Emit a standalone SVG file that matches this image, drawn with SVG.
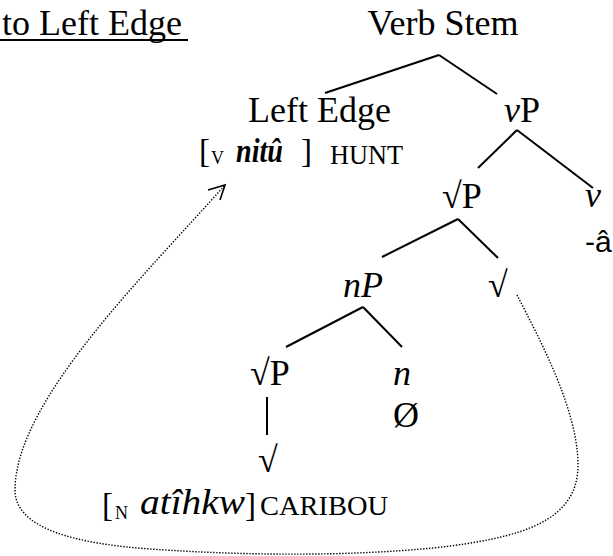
<svg xmlns="http://www.w3.org/2000/svg" width="613" height="556" viewBox="0 0 613 556">
<style>
text{font-family:"Liberation Serif","Times New Roman",serif;fill:#000}
.m{font-size:36px}
.i{font-style:italic}
.b{font-size:33px}
.sub{font-size:18px}
.sc{font-size:27px}
.t{stroke:#000;stroke-width:2;fill:none;stroke-linecap:butt}
.dot{stroke:#000;stroke-width:1.4;fill:none;stroke-dasharray:1.4 1.6}
</style>
<rect width="613" height="556" fill="#fff"/>
<g id="title">
<text class="m" x="2" y="35">to Left Edge</text>
<line x1="0" y1="40" x2="188" y2="40" stroke="#000" stroke-width="2"/>
</g>
<g id="verb-stem"><text class="m" x="443" y="35" text-anchor="middle">Verb Stem</text></g>
<g id="left-edge">
<text class="m" x="248" y="122">Left Edge</text>
<text class="b" x="199" y="162">[</text>
<text class="sub" x="211" y="164">V</text>
<text class="b i" x="236" y="162" font-weight="bold" textLength="47" lengthAdjust="spacingAndGlyphs">nitû</text>
<text class="b" x="301" y="162">]</text>
<text class="sc" x="330" y="164" textLength="73" lengthAdjust="spacingAndGlyphs">HUNT</text>
</g>
<g id="vP"><text class="m" x="504" y="122"><tspan class="i">v</tspan>P</text></g>
<g id="rootP-upper"><text class="m" x="442" y="208">√P</text></g>
<g id="v-head">
<text class="m i" x="585" y="207">v</text>
<text x="585" y="252" style="font-family:'Liberation Sans',Arial,sans-serif;font-size:30px">-â</text>
</g>
<g id="nP"><text class="m i" x="343" y="297">nP</text></g>
<g id="root-right"><text class="m" x="488" y="297">√</text></g>
<g id="rootP-lower"><text class="m" x="250" y="385">√P</text></g>
<g id="n-head">
<text class="m i" x="393" y="385">n</text>
<text class="m" x="393" y="427">Ø</text>
</g>
<g id="root-lower"><text class="m" x="258" y="472">√</text></g>
<g id="caribou">
<text class="b" x="102" y="516">[</text>
<text class="sub" x="115" y="519">N</text>
<text class="m i" x="140" y="514" textLength="105" lengthAdjust="spacingAndGlyphs">atîhkw</text>
<text class="b" x="245" y="516">]</text>
<text class="sc" x="260" y="515" textLength="128" lengthAdjust="spacingAndGlyphs">CARIBOU</text>
</g>
<g id="connectors">
<line class="t" x1="439" y1="55" x2="325" y2="93"/>
<line class="t" x1="439" y1="55" x2="497" y2="94"/>
<line class="t" x1="517" y1="130" x2="478" y2="168"/>
<line class="t" x1="517" y1="130" x2="593" y2="188"/>
<line class="t" x1="458" y1="219" x2="382" y2="257"/>
<line class="t" x1="458" y1="219" x2="498" y2="258"/>
<line class="t" x1="363" y1="307" x2="286" y2="347"/>
<line class="t" x1="363" y1="307" x2="402" y2="347"/>
<line class="t" x1="267" y1="397" x2="267" y2="435"/>
<path class="dot" d="M517,295 C540,340 578,410 578,465 C578,520 525,538 433,548 C350,556 250,556 150,549 C80,544 15,530 15,490 C15,400 150,270 225,185"/>
<polyline points="208,190 225,185 220,200" fill="none" stroke="#000" stroke-width="1.6"/>
</g>
</svg>
